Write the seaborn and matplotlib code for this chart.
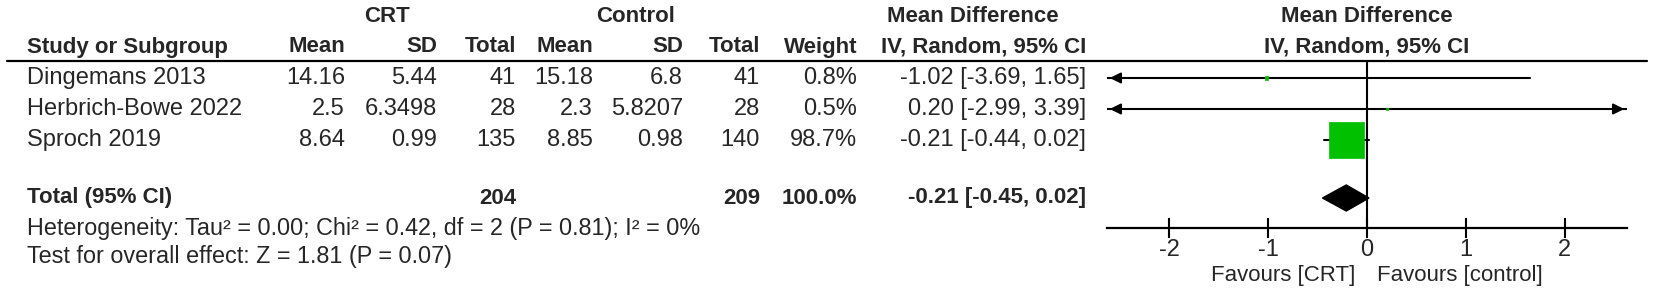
import numpy as np
import pandas as pd
import seaborn as sns
import matplotlib.pyplot as plt
from matplotlib import font_manager

# ==============================
# Data
# ==============================
studies = ["Dingemans 2013", "Herbrich-Bowe 2022", "Sproch 2019"]
crt_mean = ["14.16", "2.5", "8.64"]
crt_sd = ["5.44", "6.3498", "0.99"]
crt_total = [41, 28, 135]
ctl_mean = ["15.18", "2.3", "8.85"]
ctl_sd = ["6.8", "5.8207", "0.98"]
ctl_total = [41, 28, 140]
weight = [0.8, 0.5, 98.7]
md = [-1.02, 0.20, -0.21]
ci_low = [-3.69, -2.99, -0.44]
ci_high = [1.65, 3.39, 0.02]

pooled_md = -0.21
pooled_low = -0.45
pooled_high = 0.02
pooled_crt_total = 204
pooled_ctl_total = 209
pooled_weight = 100.0

heterogeneity = "Heterogeneity: Tau² = 0.00; Chi² = 0.42, df = 2 (P = 0.81); I² = 0%"
overall = "Test for overall effect: Z = 1.81 (P = 0.07)"
x_ticks = [-2, -1, 0, 1, 2]
x_lim = 2.63

df = pd.DataFrame({"study": studies, "md": md, "lo": ci_low, "hi": ci_high,
                   "weight": weight, "row": np.arange(len(studies))})

# ==============================
# Style
# ==============================
sns.set_theme(style="white")
installed = {f.name for f in font_manager.fontManager.ttflist}
narrow = "Liberation Sans Narrow" if "Liberation Sans Narrow" in installed else "Liberation Sans"
plt.rcParams["font.family"] = ["Liberation Sans", "DejaVu Sans"]

W, H = 1654, 302
fig = plt.figure(figsize=(W / 100, H / 100), dpi=100)

# text layer in pixel coordinates
ax_t = fig.add_axes([0, 0, 1, 1])
ax_t.set_xlim(0, W)
ax_t.set_ylim(H, 0)
ax_t.axis("off")

row0, step = 78, 31
total_y = 198
fs = 17
hdr = dict(fontsize=16, fontweight="bold", va="center")

# header
ax_t.text(387, 16, "CRT", ha="center", **hdr)
ax_t.text(636, 16, "Control", ha="center", **hdr)
ax_t.text(973, 16, "Mean Difference", ha="center", **hdr)
ax_t.text(1367, 16, "Mean Difference", ha="center", **hdr)
ax_t.text(27, 47, "Study or Subgroup", ha="left", **hdr)
cols = [345, 437, 516, 593, 683, 760, 857, 1086]
heads = ["Mean", "SD", "Total", "Mean", "SD", "Total", "Weight", "IV, Random, 95% CI"]
for x, h in zip(cols, heads):
    ax_t.text(x, 47, h, ha="right", **hdr)
ax_t.text(1367, 47, "IV, Random, 95% CI", ha="center", **hdr)
ax_t.plot([7, 1647], [61, 61], color="black", lw=1.6)

# study rows
for i, s in enumerate(studies):
    y = row0 + step * i
    vals = [crt_mean[i], crt_sd[i], str(crt_total[i]), ctl_mean[i], ctl_sd[i],
            str(ctl_total[i]), f"{weight[i]:.1f}%",
            f"{md[i]:.2f} [{ci_low[i]:.2f}, {ci_high[i]:.2f}]"]
    ax_t.text(27, y, s, ha="left", va="center", fontsize=fs)
    for x, v in zip(cols, vals):
        ax_t.text(x, y, v, ha="right", va="center", fontsize=fs)

# total row
tb = dict(fontsize=16, fontweight="bold", va="center")
ax_t.text(27, total_y, "Total (95% CI)", ha="left", **tb)
ax_t.text(cols[2], total_y, str(pooled_crt_total), ha="right", **tb)
ax_t.text(cols[5], total_y, str(pooled_ctl_total), ha="right", **tb)
ax_t.text(cols[6], total_y, f"{pooled_weight:.1f}%", ha="right", **tb)
ax_t.text(cols[7], total_y, f"{pooled_md:.2f} [{pooled_low:.2f}, {pooled_high:.2f}]", ha="right", **tb)
ax_t.text(27, 229, heterogeneity, ha="left", va="center", fontsize=16.8, family=[narrow, "DejaVu Sans"])
ax_t.text(27, 256, overall, ha="left", va="center", fontsize=16.8, family=[narrow, "DejaVu Sans"])

# ==============================
# Forest plot
# ==============================
top_px, bot_px, left_px, right_px = 61, 228, 1107, 1627
ax_f = fig.add_axes([left_px / W, 1 - bot_px / H, (right_px - left_px) / W, (bot_px - top_px) / H])
ax_f.patch.set_alpha(0)
ax_f.set_xlim(-x_lim, x_lim)
y_top = (top_px - row0) / step
y_bot = (bot_px - row0) / step
ax_f.set_ylim(y_bot, y_top)
total_row = (total_y - row0) / step

for r in df.itertuples():
    lo = max(r.lo, -x_lim)
    hi = min(r.hi, x_lim)
    ax_f.plot([lo, hi], [r.row, r.row], color="black", lw=1.5, zorder=2)
    if r.lo < -x_lim:
        ax_f.annotate("", xy=(-x_lim, r.row), xytext=(-x_lim + 0.15, r.row),
                      arrowprops=dict(arrowstyle="-|>", color="black", lw=1.5, mutation_scale=16))
    if r.hi > x_lim:
        ax_f.annotate("", xy=(x_lim, r.row), xytext=(x_lim - 0.15, r.row),
                      arrowprops=dict(arrowstyle="-|>", color="black", lw=1.5, mutation_scale=16))

# squares: area proportional to weight
k = 6.6
sns.scatterplot(data=df, x="md", y="row", size="weight",
                sizes=(min(weight) * k, max(weight) * k), marker="s",
                color="#00c000", edgecolor="#00c000", linewidth=0.5,
                legend=False, ax=ax_f, zorder=3)

# pooled diamond
dh = 0.42
ax_f.fill([pooled_low, pooled_md, pooled_high, pooled_md],
          [total_row, total_row - dh, total_row, total_row + dh],
          color="black", zorder=3)

ax_f.axvline(0, color="black", lw=1.5, zorder=1)
for side in ["top", "left", "right"]:
    ax_f.spines[side].set_visible(False)
ax_f.spines["bottom"].set_color("black")
ax_f.spines["bottom"].set_linewidth(1.6)
ax_f.set_yticks([])
ax_f.set_xticks(x_ticks)
ax_f.set_xticklabels([str(t) for t in x_ticks], family=[narrow, "DejaVu Sans"], fontsize=17)
ax_f.tick_params(axis="x", direction="inout", length=14, width=1.5, color="black", pad=1, bottom=True)
ax_f.set_xlabel("")
ax_f.set_ylabel("")
ax_f.grid(False)

ax_t.text(1355, 276, "Favours [CRT]", ha="right", va="center", fontsize=16)
ax_t.text(1377, 276, "Favours [control]", ha="left", va="center", fontsize=16)

fig.savefig("out.png", dpi=100, facecolor="white")
